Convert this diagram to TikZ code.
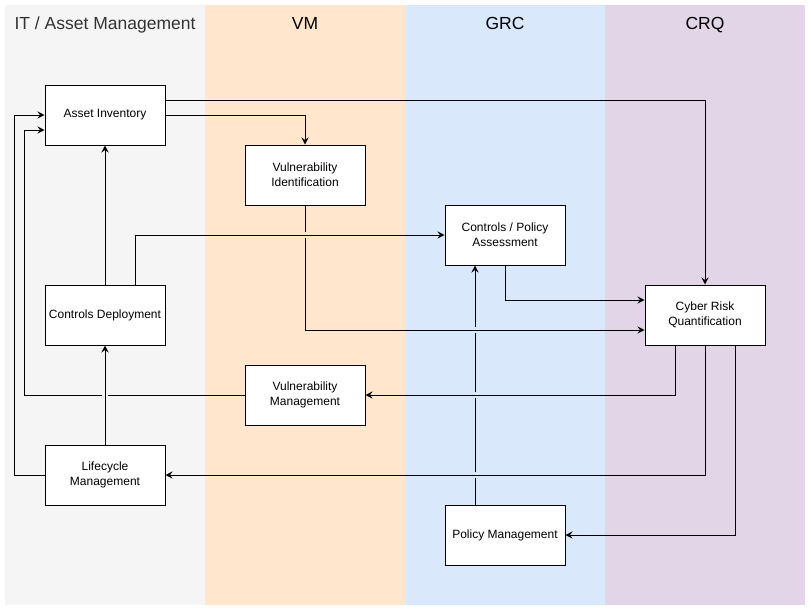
\documentclass[tikz,border=0pt]{standalone}
\usepackage{xcolor}
\usepackage{fontspec}
\setmainfont{Liberation Sans}
\usetikzlibrary{arrows.meta}
\usetikzlibrary{calc}
\definecolor{laneit}{HTML}{F5F5F5}
\definecolor{lanevm}{HTML}{FFE6CC}
\definecolor{lanegrc}{HTML}{DAE8FC}
\definecolor{lanecrq}{HTML}{E1D5E7}
\definecolor{headgray}{HTML}{333333}
\tikzset{
    proc/.style={draw=black,fill=white,line width=1pt,minimum width=120pt,minimum height=60pt,
        inner sep=0pt,align=center,font=\fontsize{12}{15}\selectfont},
    flow/.style={line width=1pt,-{Stealth[length=7pt,width=7pt,inset=2.5pt]}},
    head/.style={anchor=base,font=\fontsize{17.5}{20}\selectfont}
}
\newcommand{\jumpv}[3]{\fill[#3] (#1-2,#2-3) rectangle (#1+2,#2+3);}
\newcommand{\jumph}[3]{\fill[#3] (#1-3,#2-2) rectangle (#1+3,#2+2);}

\begin{document}
\begin{tikzpicture}[x=1pt,y=-1pt]
    \useasboundingbox (0,0) rectangle (811,611);

    % swimlanes
    \foreach \lx/\lcol in {5/laneit,205/lanevm,405/lanegrc,605/lanecrq}
        \fill[\lcol] (\lx,5) rectangle ++(200,600);

    \node[head,text=headgray] (hit) at (105,29) {IT / Asset Management};
    \node[head] (hvm) at (305,29) {VM};
    \node[head] (hgrc) at (505,29) {GRC};
    \node[head] (hcrq) at (705,29) {CRQ};

    % steps
    \node[proc] (ai) at (105,115) {Asset Inventory};
    \node[proc] (vi) at (305,175) {Vulnerability\\Identification};
    \node[proc] (cpa) at (505,235) {Controls / Policy\\Assessment};
    \node[proc] (crq) at (705,315) {Cyber Risk\\Quantification};
    \node[proc] (cd) at (105,315) {Controls Deployment};
    \node[proc] (vm) at (305,395) {Vulnerability\\Management};
    \node[proc] (lm) at (105,475) {Lifecycle\\Management};
    \node[proc] (pm) at (505,535) {Policy Management};

    % flows
    \draw[flow] ([xshift=-30pt]pm.north) -- ([xshift=-30pt]cpa.south);
    \jumpv{475}{330}{lanegrc}
    \jumpv{475}{395}{lanegrc}
    \jumpv{475}{475}{lanegrc}

    \draw[flow] ([yshift=15pt]ai.east) -| (crq.north);
    \draw[flow] (ai.east) -| (vi.north);
    \draw[flow] (vi.south) |- ([yshift=-15pt]crq.west);
    \jumpv{305}{235}{lanevm}
    \draw[flow] ([xshift=30pt]cd.north) |- (cpa.west);
    \draw[flow] (cd.north) -- (ai.south);
    \draw[flow] (cpa.south) |- ([yshift=15pt]crq.west);

    \draw[flow] ([xshift=-30pt]crq.south) |- (vm.east);
    \draw[flow] (crq.south) |- (lm.east);
    \draw[flow] ([xshift=30pt]crq.south) |- (pm.east);

    \draw[flow] (vm.west) -- ++(-220,0) |- ([yshift=-15pt]ai.west);
    \jumph{105}{395}{laneit}
    \draw[flow] (lm.west) -- ++(-30,0) |- (ai.west);
    \draw[flow] (lm.north) -- (cd.south);
\end{tikzpicture}
\end{document}
